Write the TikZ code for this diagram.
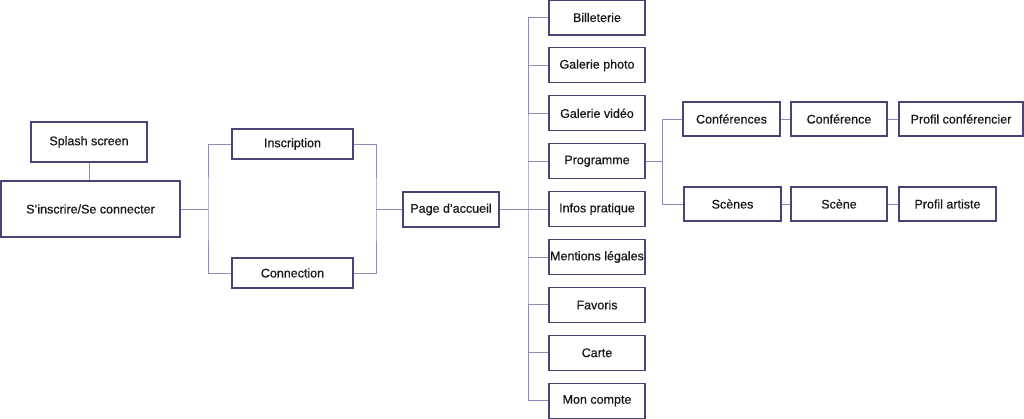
\documentclass[tikz,border=0pt]{standalone}
\usepackage{fontspec}
\setmainfont{Liberation Sans}
\newfontfamily\medfont{Liberation Sans}[FakeBold=0.6]
\definecolor{boxc}{HTML}{4A4378}
\definecolor{linec}{HTML}{9189BA}
\begin{document}
\begin{tikzpicture}[x=1pt,y=-1pt,
  box/.style={draw=boxc,line width=1.2pt,fill=white,inner sep=0pt,minimum height=35pt,
    font=\medfont\fontsize{12.5}{14}\selectfont,text=black!90},
  colbox/.style={box,minimum width=96pt,minimum height=35pt},
  conn/.style={draw=linec,line width=0.85pt}]
\useasboundingbox (0,0) rectangle (1024,419);
\fill[white] (0,0) rectangle (1024,419);
\coordinate (f1) at (208,209);
\coordinate (f2) at (376,209.5);
\coordinate (f3) at (528,209.5);
\coordinate (f4) at (662,161.2);
% nodes
\node[box,minimum width=116pt,minimum height=40pt] (splash) at (89,142) {Splash screen};
\node[box,minimum width=179pt,minimum height=56pt] (sins) at (90.5,209) {S’inscrire/Se connecter};
\node[box,minimum width=121pt,minimum height=30pt] (insc) at (292.5,144) {Inscription};
\node[box,minimum width=121pt,minimum height=30pt] (conx) at (292.5,273) {Connection};
\node[box,minimum width=96pt,minimum height=35pt] (acc) at (451,209.5) {Page d’accueil};
\node[colbox] (b1) at (597,17.5) {Billeterie};
\node[colbox] (b2) at (597,65.4) {Galerie photo};
\node[colbox] (b3) at (597,113.3) {Galerie vidéo};
\node[colbox] (b4) at (597,161.2) {Programme};
\node[colbox] (b5) at (597,209.1) {Infos pratique};
\node[colbox] (b6) at (597,257) {Mentions légales};
\node[colbox] (b7) at (597,304.9) {Favoris};
\node[colbox] (b8) at (597,352.8) {Carte};
\node[colbox] (b9) at (597,400.7) {Mon compte};
\node[box,minimum width=97pt,minimum height=34pt] (confs) at (731.5,119) {Conférences};
\node[box,minimum width=96pt,minimum height=34pt] (conf) at (839,119) {Conférence};
\node[box,minimum width=124pt,minimum height=34pt] (pconf) at (961,119) {Profil conférencier};
\node[box,minimum width=97pt,minimum height=34pt] (scns) at (732.5,204) {Scènes};
\node[box,minimum width=96pt,minimum height=34pt] (scn) at (839,204) {Scène};
\node[box,minimum width=97pt,minimum height=34pt] (part) at (947.5,204) {Profil artiste};
% lines
\draw[conn] (splash.south) -- (splash.south |- sins.north);
\draw[conn] (sins.east) -- (f1);
\draw[conn] (insc.west) -| (f1) |- (conx.west);
\draw[conn] (insc.east) -| (f2) |- (conx.east);
\draw[conn] (f2) -- (acc.west);
\draw[conn] (acc.east) -- (f3);
\draw[conn] (b1.west) -| (f3) |- (b9.west);
\foreach \b in {b2,b3,b4,b5,b6,b7,b8} {\draw[conn] (f3 |- \b.west) -- (\b.west);}
\draw[conn] (b4.east) -- (f4);
\draw[conn] (confs.west) -| (f4) |- (scns.west);
\draw[conn] (confs.east) -- (conf.west);
\draw[conn] (conf.east) -- (pconf.west);
\draw[conn] (scns.east) -- (scn.west);
\draw[conn] (scn.east) -- (part.west);
\end{tikzpicture}
\end{document}
